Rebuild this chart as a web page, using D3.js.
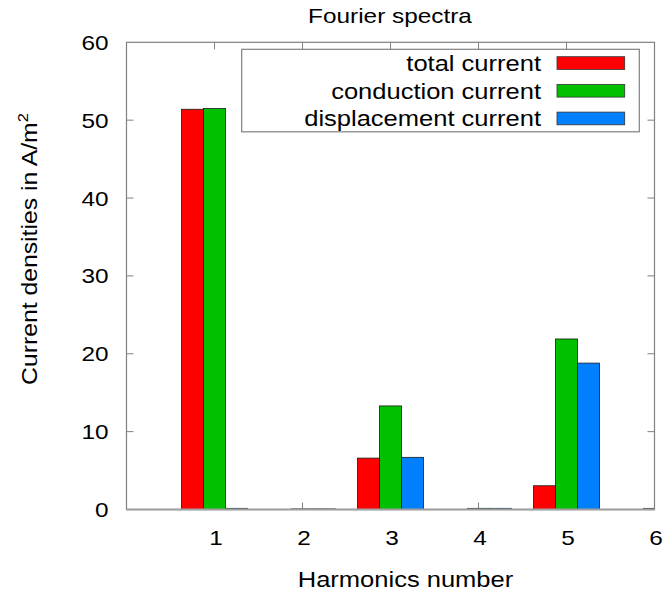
<!DOCTYPE html>
<html>
<head>
<meta charset="utf-8">
<script src="https://cdn.jsdelivr.net/npm/d3@7"></script>
<style>
  html, body { margin: 0; padding: 0; background: #fff; }
  svg text { font-family: "Liberation Sans", Arial, Helvetica, sans-serif; fill: #000; }
</style>
</head>
<body>
<svg id="chart" width="670" height="590"></svg>
<script>
// Harmonic orders on the x axis
const harmonics = [1, 2, 3, 4, 5, 6];
// Amplitudes of each current density component (A/m^2)
const totalCurrent        = [51.4, 0.0, 6.6, 0.0, 3.05, 0.0];
const conductionCurrent   = [51.5, 0.08, 13.3, 0.15, 21.9, 0.15];
const displacementCurrent = [0.15, 0.08, 6.7, 0.15, 18.8, 0.0];

const seriesNames  = ["total current", "conduction current", "displacement current"];
const seriesColors = ["#ff0000", "#00c000", "#0080ff"];
const seriesValues = [totalCurrent, conductionCurrent, displacementCurrent];

const yTicks = [0, 10, 20, 30, 40, 50, 60];
const xTicks = [1, 2, 3, 4, 5, 6];

const svg = d3.select("#chart");
const L = 126.5, R = 654.5, T = 42.3, B = 509.5;
const SX = 1.16; // horizontal stretch of the wide sans face used for all labels

const x = d3.scaleLinear().domain([0, 6]).range([L, R]);
const y = d3.scaleLinear().domain([0, 60]).range([B, T]);
const barW = 0.25; // width of each bar in harmonic units

// Place a text with its anchor at (px, py), stretched horizontally
function label(g, px, py, str, size, anchor, rot, sx = SX) {
  return g.append("text")
    .attr("transform", `translate(${px},${py})${rot ? ` rotate(${rot})` : ""} scale(${sx},1)`)
    .attr("text-anchor", anchor)
    .attr("font-size", size)
    .text(str);
}

svg.append("defs").append("clipPath").attr("id", "plotClip")
  .append("rect").attr("x", L).attr("y", T).attr("width", R - L).attr("height", B - T);

const frameColor = "#808080";
const tickLen = 7;

// Inward ticks on all four sides
const ticks = svg.append("g").attr("stroke", frameColor).attr("stroke-width", 1);
yTicks.slice(1, -1).forEach(v => {
  ticks.append("line").attr("x1", L).attr("x2", L + tickLen).attr("y1", y(v)).attr("y2", y(v));
  ticks.append("line").attr("x1", R).attr("x2", R - tickLen).attr("y1", y(v)).attr("y2", y(v));
});
xTicks.slice(0, -1).forEach(v => {
  ticks.append("line").attr("x1", x(v)).attr("x2", x(v)).attr("y1", T).attr("y2", T + tickLen);
  ticks.append("line").attr("x1", x(v)).attr("x2", x(v)).attr("y1", B).attr("y2", B - tickLen);
});

// Bars, clustered around each harmonic
const bars = svg.append("g").attr("clip-path", "url(#plotClip)");
seriesValues.forEach((vals, si) => {
  bars.selectAll(null)
    .data(harmonics.map((h, i) => ({ h, v: vals[i] })).filter(d => d.v > 0))
    .enter().append("rect")
    .attr("x", d => x(d.h + (si - 1.5) * barW))
    .attr("width", x(barW) - x(0))
    .attr("y", d => y(d.v))
    .attr("height", d => y(0) - y(d.v))
    .attr("fill", seriesColors[si])
    .attr("stroke", "#1a1a1a")
    .attr("stroke-width", 0.8);
});

// Plot frame
svg.append("rect")
  .attr("x", L).attr("y", T).attr("width", R - L).attr("height", B - T)
  .attr("fill", "none").attr("stroke", frameColor).attr("stroke-width", 1.2);
svg.append("line").attr("x1", L).attr("x2", R).attr("y1", B).attr("y2", B)
  .attr("stroke", "#a0a0a0").attr("stroke-width", 2);

// Tick labels
const yLab = svg.append("g");
yTicks.forEach(v => label(yLab, L - 18, y(v) + 7.5, v, 21, "end"));
const xLab = svg.append("g");
xTicks.forEach(v => label(xLab, x(v) + 1.5, 544.5, v, 21, "middle"));

// Title and axis labels
label(svg, 390, 23, "Fourier spectra", 21, "middle");
label(svg, 405.5, 586.5, "Harmonics number", 22, "middle");
const yl = label(svg, 37, 249, "", 22.5, "middle", -90, 1.1);
yl.append("tspan").text("Current densities in A/m");
yl.append("tspan").attr("dy", -9).attr("font-size", 15).text("2");

// Legend
const lg = svg.append("g");
lg.append("rect").attr("x", 241.7).attr("y", 49.3).attr("width", 397.6).attr("height", 82.5)
  .attr("fill", "#fff").attr("stroke", frameColor).attr("stroke-width", 1.2);
seriesNames.forEach((name, i) => {
  const cy = 63 + i * 27.7;
  label(lg, 541, cy + 7.8, name, 22, "end");
  lg.append("rect").attr("x", 557).attr("y", cy - 6.3).attr("width", 67.7).attr("height", 12.7)
    .attr("fill", seriesColors[i]).attr("stroke", "#333").attr("stroke-width", 0.8);
});
</script>
</body>
</html>
